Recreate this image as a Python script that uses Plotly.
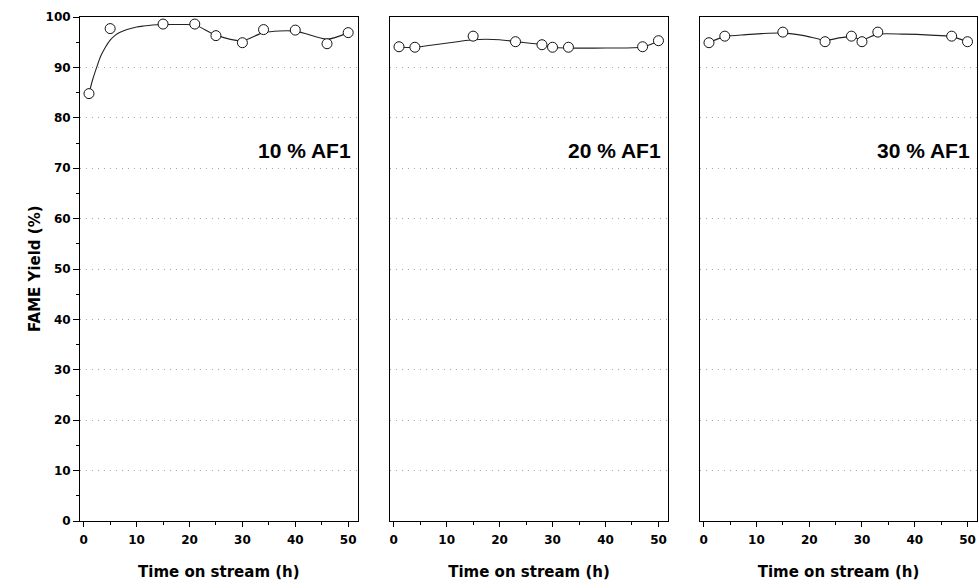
import plotly.graph_objects as go

# ---- data ----
panel_labels = ["10 % AF1", "20 % AF1", "30 % AF1"]

t1 = [1, 5, 15, 21, 25, 30, 34, 40, 46, 50]
y1 = [84.8, 97.7, 98.6, 98.6, 96.3, 94.9, 97.5, 97.4, 94.7, 96.9]
fit_t1 = [1, 1.7, 2.45, 3.2, 4.1, 5, 6, 7, 8.2, 10, 11.3, 13, 15, 18, 21, 25, 30, 34, 40, 46, 50]
fit_y1 = [84.8, 87.6, 90.0, 92.2, 94.0, 95.4, 96.4, 97.0, 97.5, 98.0, 98.2, 98.4, 98.5, 98.5, 98.4,
          96.4, 95.3, 96.9, 97.2, 95.6, 96.9]

t2 = [1, 4, 15, 23, 28, 30, 33, 47, 50]
y2 = [94.1, 94.0, 96.2, 95.1, 94.5, 94.0, 94.0, 94.1, 95.3]
fit_t2 = [1, 4, 7, 12, 15, 20, 23, 28, 30, 33, 40, 47, 50]
fit_y2 = [94.06, 93.95, 94.4, 95.1, 95.5, 95.5, 95.12, 94.52, 94.0, 93.85, 93.85, 94.06, 95.25]

t3 = [1, 4, 15, 23, 28, 30, 33, 47, 50]
y3 = [94.9, 96.2, 97.0, 95.1, 96.2, 95.1, 97.0, 96.2, 95.1]
fit_t3 = [1, 4, 8, 11, 15, 19, 23, 26, 28, 30, 33, 38, 43, 47, 50]
fit_y3 = [94.92, 96.1, 96.5, 96.7, 96.8, 96.3, 95.4, 95.9, 96.1, 95.5, 96.6, 96.6, 96.4, 96.1, 95.05]

x_ticks = [0, 10, 20, 30, 40, 50]
y_ticks = [0, 10, 20, 30, 40, 50, 60, 70, 80, 90, 100]

series = [(t1, y1, fit_t1, fit_y1), (t2, y2, fit_t2, fit_y2), (t3, y3, fit_t3, fit_y3)]

W, H = 979, 588
ML, MR, MT, MB = 80, 2, 17, 67
PW = W - ML - MR
domains = [
    [0.0, (357.7 - ML) / PW],
    [(390 - ML) / PW, (668 - ML) / PW],
    [(700 - ML) / PW, 1.0],
]

FONT = "DejaVu Sans"
fig = go.Figure()

for i, (tx, ty, fx, fy) in enumerate(series):
    suf = "" if i == 0 else str(i + 1)
    fig.add_trace(go.Scatter(
        x=fx, y=fy, mode="lines", line=dict(color="#222222", width=1.1, shape="spline", smoothing=0.8),
        xaxis="x" + suf, yaxis="y" + suf, showlegend=False, hoverinfo="skip"))
    fig.add_trace(go.Scatter(
        x=tx, y=ty, mode="markers",
        marker=dict(symbol="circle", size=10, color="white", line=dict(color="#111111", width=1)),
        xaxis="x" + suf, yaxis="y" + suf, showlegend=False))

layout = dict(
    width=W, height=H,
    margin=dict(l=ML, r=MR, t=MT, b=MB, pad=0),
    paper_bgcolor="white", plot_bgcolor="white",
    font=dict(family=FONT, color="black"),
    showlegend=False,
)

for i in range(3):
    suf = "" if i == 0 else str(i + 1)
    xa = dict(
        domain=domains[i], range=[-0.7, 51.8], anchor="y" + suf,
        tickmode="array", tickvals=x_ticks, ticktext=[str(v) for v in x_ticks],
        ticks="outside", ticklen=5, tickwidth=1, tickcolor="black",
        minor=dict(dtick=5, ticks="outside", ticklen=3, tickwidth=1, tickcolor="black", showgrid=False),
        showline=True, linecolor="black", linewidth=1, mirror=True,
        showgrid=False, zeroline=False, ticklabelstandoff=3,
        tickfont=dict(family=FONT, size=12, color="black", weight="bold"),
        title=dict(text="Time on stream (h)", standoff=20,
                   font=dict(family=FONT, size=15, color="black", weight="bold")),
    )
    ya = dict(
        domain=[0, 1], range=[0, 100], anchor="x" + suf,
        tickmode="array", tickvals=y_ticks,
        showline=True, linecolor="black", linewidth=1, mirror=True,
        showgrid=True, gridcolor="#a8a8a8", griddash="1px,5px", gridwidth=1,
        zeroline=False,
    )
    if i == 0:
        ya.update(
            ticks="outside", ticklen=6, tickwidth=1, tickcolor="black",
            minor=dict(dtick=5, ticks="outside", ticklen=3, tickwidth=1, tickcolor="black", showgrid=False),
            showticklabels=True,
            tickfont=dict(family=FONT, size=12, color="black", weight="bold"),
        )
    else:
        ya.update(ticks="", showticklabels=False)
    layout["xaxis" + suf] = xa
    layout["yaxis" + suf] = ya

annotations = []
for i, lab in enumerate(panel_labels):
    suf = "" if i == 0 else str(i + 1)
    annotations.append(dict(
        text="<b>" + lab + "</b>", xref=("x" + suf + " domain"), yref="y" + suf,
        x=1, y=73.6, xanchor="right", yanchor="middle", xshift=-5, showarrow=False,
        font=dict(family="Liberation Sans", size=21, color="black"),
    ))
annotations.append(dict(
    text="<b>FAME Yield (%)</b>", xref="paper", yref="paper",
    x=(35 - ML) / PW, y=0.5, xanchor="center", yanchor="middle", textangle=-90, showarrow=False,
    font=dict(family=FONT, size=15, color="black"),
))
layout["annotations"] = annotations

fig.update_layout(**layout)
fig.write_html(
    "out.html",
    config={"displayModeBar": False},
    post_script="document.body.style.margin='0px';document.body.style.padding='0px';"
                "document.body.style.overflow='hidden';",
)
